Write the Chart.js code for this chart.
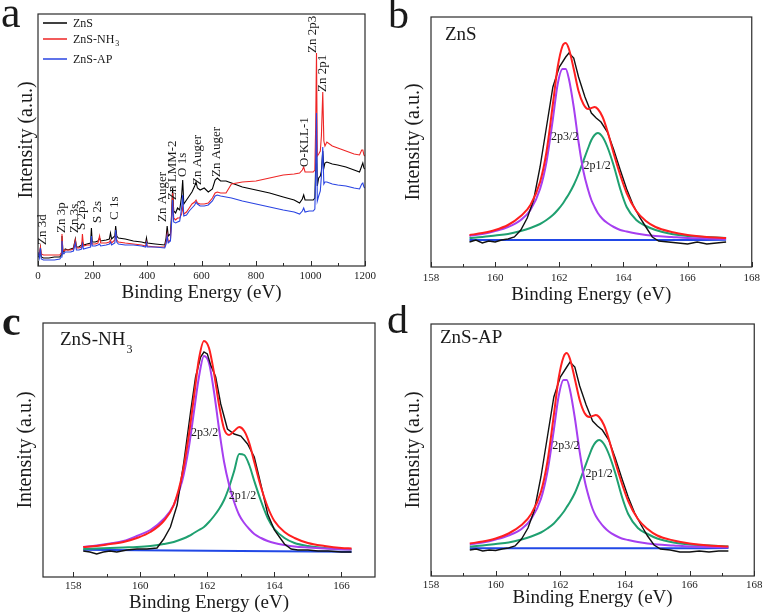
<!DOCTYPE html>
<html><head><meta charset="utf-8">
<script src="https://cdn.jsdelivr.net/npm/chart.js@4.4.1/dist/chart.umd.min.js"></script>
<style>
html,body{margin:0;padding:0;background:#fff;width:765px;height:616px;overflow:hidden}
canvas{position:absolute}
</style></head><body>
<canvas id="ca" style="left:0;top:0;width:380px;height:305px" width="380" height="305"></canvas>
<canvas id="cb" style="left:380px;top:0;width:385px;height:305px" width="385" height="305"></canvas>
<canvas id="cc" style="left:0;top:305px;width:380px;height:311px" width="380" height="311"></canvas>
<canvas id="cd" style="left:380px;top:305px;width:385px;height:311px" width="385" height="311"></canvas>
<script>
// ---------- Panel a: survey spectra ----------
const surveyEnergy = [0,5,9,12,20,40,60,80,85,88,91,95,100,110,120,130,137,141,150,160,163,167,180,193,196,199,210,220,226,230,250,262,266,270,282,285,289,295,320,350,380,395,398,401,430,465,470,474,478,486,490,494,498,505,512,520,527,531,535,545,555,565,575,580,585,595,610,625,640,650,658,670,690,710,750,800,850,900,940,960,970,975,980,995,1010,1016,1019,1022,1025,1030,1036,1040,1045,1049,1053,1060,1080,1100,1130,1160,1180,1188,1192,1196,1200];
const surveyZnS = [10,9,18,9,8,8,9,9,11,30,16,14,17,16,17,18,27,19,19,21,24,21,22,23,38,24,24,25,28,25,26,27,33,27,30,40,30,28,27,25,24,23,28,23,22,21,28,40,30,32,50,78,55,53,58,56,70,86,62,66,70,74,80,84,78,76,78,74,77,86,88,85,85,83,79,76,73,69,66,63,67,71,66,66,66,68,100,125,80,88,90,95,115,98,103,104,102,101,99,96,94,100,103,98,97];
const surveyNH3 = [12,12,19,12,11,11,11,11,13,32,17,15,16,16,16,17,26,18,18,19,32,20,21,21,26,22,22,23,30,23,23,24,26,23,26,33,26,24,23,22,21,20,24,20,19,19,24,32,24,26,45,73,48,46,48,48,52,59,52,54,58,62,64,66,63,62,62,63,68,73,74,73,73,82,84,85,88,91,92,93,96,99,94,94,94,96,140,213,110,112,115,130,174,125,120,124,120,118,115,112,111,116,116,111,110];
const surveyAP = [14,8,18,7,6,6,6,7,9,25,13,12,14,14,14,15,23,16,16,17,22,17,18,19,30,20,20,21,22,20,21,22,24,21,23,36,24,22,21,21,20,19,23,19,19,18,22,30,23,25,42,66,44,43,44,45,58,71,50,51,55,58,61,64,62,60,60,61,65,70,71,70,69,68,65,62,59,56,54,52,55,58,54,55,55,57,90,153,65,70,75,90,119,82,84,84,82,81,80,78,77,82,83,79,78];
const surveyTicks = [0,200,400,600,800,1000,1200];
const surveyMinor = [100,300,500,700,900,1100];
const surveyLabels = ['Zn 3d','Zn 3p','Zn 3s','S 2p3','S 2s','C 1s','Zn Auger','Zn LMM-2','O 1s','Zn Auger','Zn Auger','O-KLL-1','Zn 2p3','Zn 2p1'];
const surveyLabelE = [18,88,135,160,220,282,458,495,530,585,656,977,1007,1043];
const surveyLabelI = [21,33,33,36,43,46,44,66,89,81,89,99,213,174];

// ---------- Panel b: ZnS S 2p ----------
const fitEnergyB = [159.2,159.6,160.0,160.4,160.8,161.1,161.4,161.6,161.8,161.95,162.1,162.2,162.3,162.45,162.6,162.75,162.9,163.0,163.1,163.2,163.35,163.5,163.7,163.9,164.1,164.4,164.7,165.0,165.5,166.0,166.6,167.2];
const p32B = [31,33,36,40,47,57,78,105,148,183,198,198,188,160,125,96,77,67,60,54,48,44,40,37,35.5,33.5,32,31,30,29,28.5,28];
const p12B = [29,30,31.5,33,36,39,43,47,52,57,63,68,73,82,93,106,119,127,132,134,130,120,101,78,60,47,41,37,33,31,30,29];
const envB = [32,34,37,42,51,62,85,115,163,200,221,224,218,198,176,163,158,159,160,158,150,136,113,92,74,56,46,40,35,32,30,29];
const baseEnergyB = [159.2,160.5,162,163.5,165,166.5,167.2];
const baseB = [27,27,27,27,27,27,27.3];
const expEnergyB = [159.2,159.4,159.6,159.8,160.0,160.2,160.4,160.6,160.8,161.0,161.2,161.4,161.6,161.8,162.0,162.2,162.3,162.45,162.6,162.8,163.0,163.15,163.3,163.5,163.7,163.9,164.1,164.3,164.5,164.7,164.9,165.1,165.4,165.7,166.0,166.3,166.6,166.9,167.2];
const expB = [25,27,24,26,25,27,28,30,37,49,67,100,140,180,200,210,214,209,190,170,154,149,145,135,117,97,78,62,50,40,30,26,25,24,23,25,23,24,25];

// ---------- Panel c: ZnS-NH3 S 2p ----------
const fitEnergyC = [158.3,158.7,159.1,159.5,159.9,160.3,160.7,161.0,161.25,161.45,161.6,161.75,161.9,162.05,162.2,162.35,162.5,162.65,162.8,162.95,163.1,163.25,163.4,163.6,163.8,164.0,164.3,164.6,165.0,165.5,166.0,166.3];
const p32C = [30,31.5,33.5,36,41,47,58,72,96,130,165,200,221,214,185,148,115,92,75,62,54,48,43,39,36,34,32,30.5,29.5,28.5,27.8,27.5];
const p12C = [28,28.5,29,29.5,30,31,33,35,38,41,44,47,50,55,61,68,77,90,106,123,122,112,96,76,59,48,39,34,31,29,28,27.5];
const envC = [30,31,33,35,39,45,56,72,102,142,180,218,236,229,204,172,148,142,146,150,146,134,115,90,70,56,45,39,34,31,29,28.5];
const baseEnergyC = [158.3,160,162,164,166.3];
const baseC = [27.2,26.8,26.3,25.8,25.3];
const expEnergyC = [158.3,158.5,158.7,158.9,159.1,159.3,159.6,159.9,160.2,160.5,160.7,160.9,161.1,161.3,161.5,161.65,161.8,161.9,162.0,162.1,162.25,162.4,162.6,162.8,163.0,163.2,163.4,163.6,163.8,164.0,164.15,164.3,164.5,164.7,165.0,165.3,165.6,166.0,166.3];
const expC = [26,25,23,25,26,25,27,28,28,29,38,50,72,115,165,200,220,225,223,212,200,173,148,143,141,133,120,92,63,47,40,33,28,27,27,26,26,25,25];

// ---------- Panel d: ZnS-AP S 2p ----------
const fitEnergyD = fitEnergyB.slice();
const p32D = [31.5,33.5,36.5,40.5,47,57,77,104,146,180,196,196,186,158,124,96,77,67,60,55,49,44.5,40.5,37.5,36,34,32.5,31.5,30.5,29.5,29,28.5];
const p12D = [29.5,30.5,32,33.5,36.5,39.5,43.5,47.5,52.5,58,64,69,74,83,95,108,121,129,134,136,132,122,103,80,62,48,42,37.5,33.5,31.5,30.5,29.5];
const envD = [32.5,34.5,37.5,42.5,51,62,84,114,161,198,219,223,217,197,176,163,159,160,161,159,151,137,114,93,75,57,47,40.5,35.5,32.5,30.5,29.5];
const baseEnergyD = baseEnergyB.slice();
const baseD = [27.7,27.7,27.7,27.7,27.7,27.7,27.9];
const expEnergyD = expEnergyB.slice();
const expD = [26,27,25,26,25.5,27,28,30,37,48,66,99,139,179,199,209,214,209,190,171,155,150,146,136,118,98,79,63,51,40,31,27,26,24,24,25,24,25,25];

const xpsTicks = [158,160,162,164,166,168];
const xpsMinor = [159,161,163,165,167];
const xpsTicksC = [158,160,162,164,166];
const xpsMinorC = [159,161,163,165];

// ---------- drawing ----------
const SERIF = '"Liberation Serif","Times New Roman",serif';
const COL = {black:'#111111', red:'#ff1f1f', blue:'#2148e6', purple:'#a63ff0', green:'#1fa070'};

function xy(xs, ys){ return xs.map((x,i)=>({x:x, y:ys[i]})); }
function ds(xs, ys, color, w, smooth){
  return {data:xy(xs,ys), borderColor:color, borderWidth:w, pointRadius:0, fill:false,
          tension: smooth?0.4:0, cubicInterpolationMode: smooth?'monotone':'default'};
}

const framePlugin = {
  id:'frame',
  afterDatasetsDraw(chart, args, o){
    const ctx = chart.ctx, a = chart.chartArea, xs = chart.scales.x, ys = chart.scales.y;
    ctx.save();
    ctx.strokeStyle = '#2b2b2b'; ctx.lineWidth = 1.2;
    ctx.strokeRect(a.left, a.top, a.right-a.left, a.bottom-a.top);
    ctx.lineWidth = 1;
    const tick = (v,len)=>{ const px = Math.round(xs.getPixelForValue(v))+0.5;
      ctx.beginPath(); ctx.moveTo(px, a.bottom); ctx.lineTo(px, a.bottom-len); ctx.stroke(); };
    (o.major||[]).forEach(v=>tick(v,5));
    (o.minor||[]).forEach(v=>tick(v,3));
    (o.legend||[]).forEach(l=>{ ctx.strokeStyle=l.color; ctx.lineWidth=1.5;
      ctx.beginPath(); ctx.moveTo(l.x1,l.y); ctx.lineTo(l.x2,l.y); ctx.stroke(); });
    (o.texts||[]).forEach(t=>{
      ctx.font = t.font; ctx.fillStyle = t.color||'#1a1a1a';
      ctx.textAlign = t.align||'left'; ctx.textBaseline = t.baseline||'alphabetic';
      const px = t.data ? xs.getPixelForValue(t.x) : t.x;
      const py = t.data ? ys.getPixelForValue(t.y) : t.y;
      if (t.rot){ ctx.save(); ctx.translate(px,py); ctx.rotate(-Math.PI/2); ctx.fillText(t.text,0,0); ctx.restore(); }
      else ctx.fillText(t.text, px, py);
      if (t.sub){ const w = ctx.measureText(t.text).width; ctx.font = t.subFont; ctx.fillText(t.sub, px+w+1, py+t.subDy); }
    });
    ctx.restore();
  }
};
Chart.register(framePlugin);

function options(p){
  return {
    responsive:false, animation:false, devicePixelRatio:1, events:[],
    layout:{padding:{left:0, top:p.top, right:p.right, bottom:0}},
    plugins:{legend:{display:false}, tooltip:{enabled:false}, frame:p.frame},
    scales:{
      x:{type:'linear', min:p.xmin, max:p.xmax,
        afterBuildTicks: s=>{ s.ticks = p.ticks.map(v=>({value:v})); },
        afterFit: s=>{ s.height = p.xh; },
        grid:{display:false, drawTicks:false}, border:{display:false},
        ticks:{font:{family:SERIF, size:11}, color:'#222', padding:p.tickPad, maxRotation:0, autoSkip:false, callback:v=>String(v)},
        title:{display:true, text:'Binding Energy (eV)', color:'#1a1a1a', font:{family:SERIF, size:19, lineHeight:1}, padding:{top:0, bottom:p.xtPad}}},
      y:{type:'linear', min:0, max:p.ymax,
        afterFit: s=>{ s.width = p.yw; },
        grid:{display:false, drawTicks:false}, border:{display:false},
        ticks:{display:false},
        title:{display:true, text:'Intensity (a.u.)', color:'#1a1a1a', font:{family:SERIF, size:20, lineHeight:1}, padding:{top:p.ytPad, bottom:0}}}
    }
  };
}

// Panel a
const aTexts = [{text:'a', x:1, y:27, font:'44px '+SERIF}];
surveyLabels.forEach((s,i)=>aTexts.push({text:s, x:surveyLabelE[i], y:surveyLabelI[i], data:true, rot:true, baseline:'middle', font:'13px '+SERIF}));
aTexts.push({text:'ZnS', x:73, y:27, font:'12px '+SERIF});
aTexts.push({text:'ZnS-NH', x:73, y:43, font:'12px '+SERIF, sub:'3', subFont:'8px '+SERIF, subDy:3});
aTexts.push({text:'ZnS-AP', x:73, y:63, font:'12px '+SERIF});
new Chart(document.getElementById('ca'), {
  type:'line',
  data:{datasets:[
    ds(surveyEnergy, surveyAP, '#2a44e2', 1.1, false),
    ds(surveyEnergy, surveyNH3, '#ee2525', 1.1, false),
    ds(surveyEnergy, surveyZnS, '#000000', 1.1, false)
  ]},
  options: options({top:14, right:14, yw:38, xh:39, xmin:0, xmax:1200, ymax:252, ticks:surveyTicks, tickPad:4, xtPad:2.5, ytPad:17,
    frame:{major:surveyTicks, minor:surveyMinor, texts:aTexts,
      legend:[{x1:43,x2:67,y:23,color:'#000'},{x1:43,x2:67,y:39,color:'#ee2525'},{x1:43,x2:67,y:59,color:'#2a44e2'}]}})
});

function xpsChart(id, d, p){
  const texts = [
    {text:p.letter, x:p.lx, y:p.ly, font:(p.bold?'bold ':'')+p.lsize+'px '+SERIF},
    {text:p.name, x:p.nx, y:p.ny, font:'19px '+SERIF, sub:p.nsub, subFont:'12px '+SERIF, subDy:8},
    {text:'2p3/2', x:p.l1[0], y:p.l1[1], data:true, align:'center', baseline:'middle', font:'12px '+SERIF},
    {text:'2p1/2', x:p.l2[0], y:p.l2[1], data:true, align:'center', baseline:'middle', font:'12px '+SERIF}
  ];
  new Chart(document.getElementById(id), {
    type:'line',
    data:{datasets:[
      ds(d.fx, d.env, COL.red, 2, true),
      ds(d.ex, d.exp, COL.black, 1.4, false),
      ds(d.fx, d.p32, COL.purple, 2, true),
      ds(d.fx, d.p12, COL.green, 2, true),
      ds(d.bx, d.base, COL.blue, 2, false)
    ]},
    options: options({top:p.top, right:p.right, yw:p.yw, xh:p.xh, xmin:p.xmin, xmax:p.xmax, ymax:p.ymax, ticks:p.ticks,
      tickPad:p.tickPad, xtPad:p.xtPad, ytPad:p.ytPad, frame:{major:p.ticks, minor:p.minor, texts:texts}})
  });
}

xpsChart('cb', {fx:fitEnergyB, env:envB, p32:p32B, p12:p12B, bx:baseEnergyB, base:baseB, ex:expEnergyB, exp:expB},
  {top:17, right:8, yw:51, xh:38, xmin:158, xmax:168, ymax:250, ticks:xpsTicks, minor:xpsMinor, tickPad:5, xtPad:0, ytPad:24,
   letter:'b', lx:8, ly:28, lsize:42, name:'ZnS', nx:65, ny:40, l1:[162.17,130], l2:[163.18,101]});
xpsChart('cc', {fx:fitEnergyC, env:envC, p32:p32C, p12:p12C, bx:baseEnergyC, base:baseC, ex:expEnergyC, exp:expC},
  {top:18, right:5, yw:43, xh:39, xmin:157.1, xmax:167, ymax:254, ticks:xpsTicksC, minor:xpsMinorC, tickPad:3, xtPad:3.5, ytPad:16,
   letter:'c', lx:2, ly:30, lsize:42, bold:true, name:'ZnS-NH', nsub:'3', nx:60, ny:40, l1:[161.92,143.7], l2:[163.05,80.7]});
xpsChart('cd', {fx:fitEnergyD, env:envD, p32:p32D, p12:p12D, bx:baseEnergyD, base:baseD, ex:expEnergyD, exp:expD},
  {top:19, right:8, yw:51, xh:40, xmin:158, xmax:168, ymax:252, ticks:xpsTicks, minor:xpsMinor, tickPad:2.5, xtPad:8.5, ytPad:24,
   letter:'d', lx:7, ly:28, lsize:42, name:'ZnS-AP', nx:60, ny:38, l1:[162.17,130], l2:[163.2,102]});
</script>
</body></html>
